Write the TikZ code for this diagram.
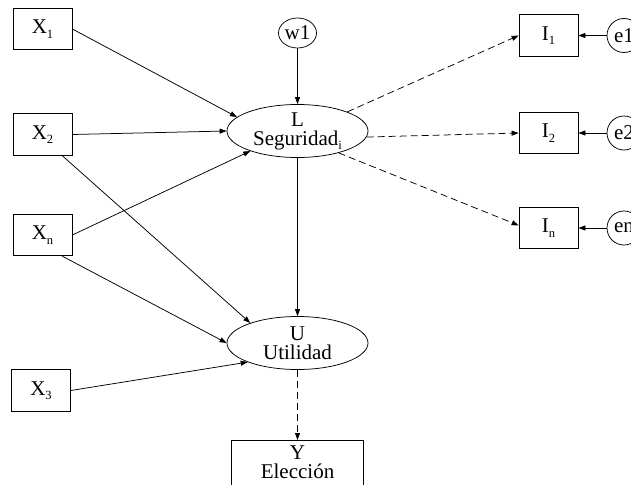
\documentclass[tikz,border=0pt]{standalone}
\usepackage{fontspec}
\setmainfont{Liberation Serif}
\usetikzlibrary{shapes.geometric,arrows.meta}
% lowered index set in a small size
\newcommand\lowidx[1]{\raisebox{-0.45ex}{\fontsize{12.5}{12.5}\selectfont #1}}

\begin{document}
\begin{tikzpicture}[x=1pt,y=-1pt,
  every node/.style={font=\fontsize{21}{19}\selectfont, inner sep=0pt},
  box/.style={draw, line width=0.75pt, minimum width=59pt, minimum height=41.5pt},
  latent/.style={draw, line width=0.75pt, ellipse, minimum width=141pt, minimum height=53pt, align=center},
  err/.style={draw, line width=0.75pt, ellipse, minimum width=34pt, minimum height=34pt},
  link/.style={-{Triangle[length=7pt,width=5pt]}, line width=0.75pt},
  load/.style={link, dash pattern=on 7pt off 4pt}
]
\useasboundingbox (0,0) rectangle (631,484);
\clip (0,0) rectangle (631,484);

% exogenous variables
\node[box] (x1) at (42.5,29) {X\lowidx{1}};
\node[box] (x2) at (42.5,134.5) {X\lowidx{2}};
\node[box] (xn) at (42.5,235) {X\lowidx{n}};
\node[box] (x3) at (41,390.5) {X\lowidx{3}};

% latent constructs
\node[draw, line width=0.75pt, ellipse, minimum width=38pt, minimum height=30pt] (w1) at (297.5,33) {w1};
\node[latent] (L) at (297.5,131) {L\\Seguridad\lowidx{i}};
\node[latent] (U) at (297.5,343) {U\\Utilidad};
\node[box, minimum width=132pt, anchor=north, inner ysep=5pt, text depth=30pt, align=center] (Y) at (297.5,440) {Y\\Elección};

% indicators and their errors
\node[box] (i1) at (548.5,35.5) {I\lowidx{1}};
\node[box] (i2) at (548.5,133) {I\lowidx{2}};
\node[box] (ind) at (548.5,228) {I\lowidx{n}};
\node[err] (e1) at (624,35.5) {e1};
\node[err] (e2) at (624,133) {e2};
\node[err] (en) at (624,228) {en};

% structural paths
\draw[link] (w1) -- (L);
\draw[link] (x1.east) -- (L.167);
\draw[link] (x2.east) -- (L.west);
\draw[link] (xn.east) -- (L.203);
\draw[link] (x2.-47) -- (U.157);
\draw[link] (xn.-47) -- (U.west);
\draw[link] (x3.east) -- (U.201);
\draw[link] (L) -- (U);
\draw[load] (U) -- (Y);

% measurement paths
\draw[load] (L.21) -- (i1.west);
\draw[load] (L.-5) -- (i2.west);
\draw[load] (L.-28) -- (ind.175);
\draw[link] (e1) -- (i1);
\draw[link] (e2) -- (i2);
\draw[link] (en) -- (ind);
\end{tikzpicture}
\end{document}
